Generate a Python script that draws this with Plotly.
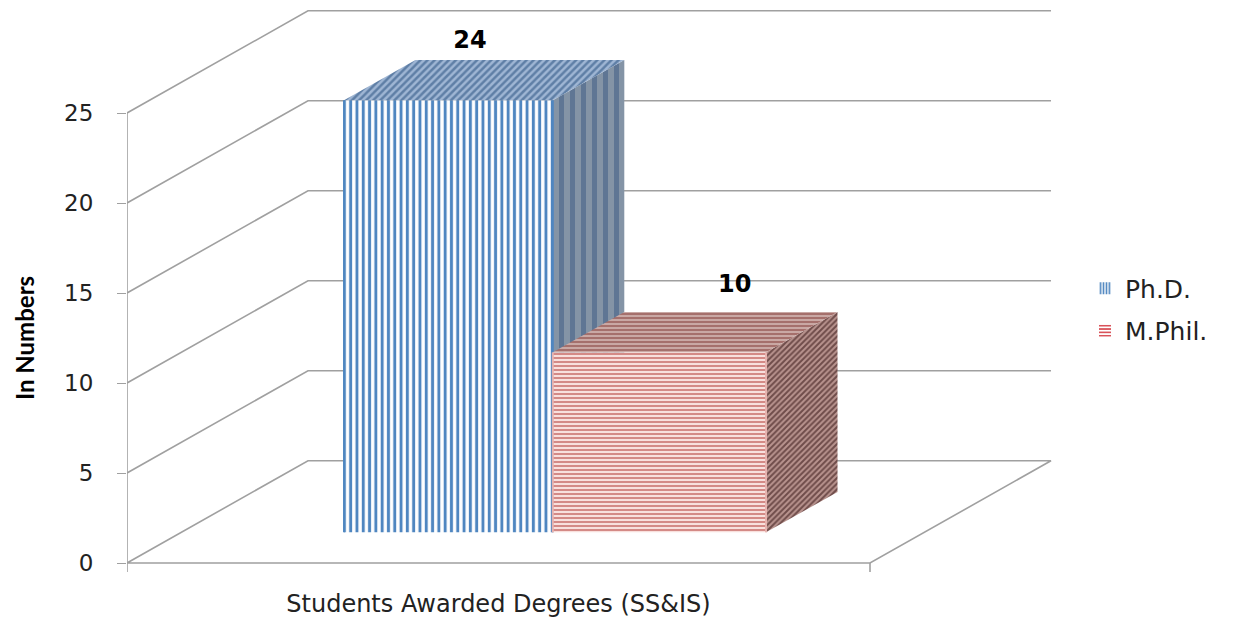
import plotly.graph_objects as go

# ---- data ----
series_names = ["Ph.D.", "M.Phil."]
series_values = [24, 10]
category = "Students Awarded Degrees (SS&IS)"
y_ticks = [0, 5, 10, 15, 20, 25]
y_axis_title = "In Numbers"

# ---- oblique projection (style constants, in axis units) ----
FULL_DX = 0.2436      # x shift of the full chart depth
FULL_DY = 5.68        # y shift of the full chart depth
D_FRONT, D_BACK = 0.30, 0.695
SLOT_L = [0.219, 0.5]
SLOT_R = [0.5, 0.787]
LABEL_POS = [(0.4616, 28.97), (0.818, 15.4)]
XR = [0, 1110 / 743]
YR = [-0.5, 31.28]
GRID = "#a0a0a0"


def proj(x, v, d):
    return x + d * FULL_DX, v + d * FULL_DY


fig = go.Figure()

# walls and floor
xs, ys = [], []
for t in y_ticks[1:]:
    a = proj(0, t, 0); b = proj(0, t, 1); c = proj(1, t, 1)
    xs += [a[0], b[0], c[0], None]; ys += [a[1], b[1], c[1], None]
a = proj(0, 0, 0); b = proj(0, 0, 1); c = proj(1, 0, 1); e = proj(1, 0, 0)
xs += [a[0], b[0], c[0], e[0], a[0], None]; ys += [a[1], b[1], c[1], e[1], a[1], None]
xs += [0, 0, None, 1, 1]; ys += [max(y_ticks), YR[0], None, 0, YR[0]]
fig.add_trace(go.Scatter(x=xs, y=ys, mode="lines", line=dict(color=GRID, width=1.6), cliponaxis=False,
                         showlegend=False, hoverinfo="skip"))

styles = [
    dict(front=dict(shape="|", fg="#4f86c0", bg="#ffffff", size=6.3, sol=0.47),
         top=dict(shape="/", fg="#5f7fa6", bg="#9fb6d4", size=5, sol=0.5),
         side=dict(shape="|", fg="#5f7694", bg="#8494a6", size=11, sol=0.45),
         edge="#4f86c0",
         legend=dict(shape="|", fg="#4f86c0", bg="#ffffff", size=3.6, sol=0.55)),
    dict(front=dict(shape="-", fg="#d0807c", bg="#f8e0dd", size=4, sol=0.45),
         top=dict(shape="-", fg="#a5706c", bg="#c9a8a4", size=4, sol=0.5),
         side=dict(shape="/", fg="#6f4c4a", bg="#b9948f", size=4, sol=0.5),
         edge="#e6b3af",
         legend=dict(shape="-", fg="#d9535a", bg="#ffffff", size=4.2, sol=0.5)),
]


def pat(s):
    return dict(shape=s["shape"], fgcolor=s["fg"], bgcolor=s["bg"], size=s["size"],
                solidity=s["sol"], fillmode="replace")


for i, (name, val) in enumerate(zip(series_names, series_values)):
    ax = dict(xaxis=f"x{i + 2}", yaxis=f"y{i + 2}")
    st = styles[i]
    base = D_FRONT * FULL_DY
    xl = SLOT_L[i] + D_FRONT * FULL_DX
    xr = SLOT_R[i] + D_FRONT * FULL_DX
    fig.add_trace(go.Bar(x=[(xl + xr) / 2], y=[val], base=[base], width=[xr - xl], showlegend=False,
                         marker=dict(color=st["front"]["fg"], pattern=pat(st["front"]),
                                     line=dict(width=0)), hoverinfo="skip", **ax))
    # legend key with a finer hatch, as in the reference swatches
    fig.add_trace(go.Bar(x=[None], y=[None], name=name, legendgroup=name,
                         marker=dict(color=st["legend"]["fg"], pattern=pat(st["legend"]),
                                     line=dict(width=0)), hoverinfo="skip", **ax))
    fl_t = proj(SLOT_L[i], val, D_FRONT); fr_t = proj(SLOT_R[i], val, D_FRONT)
    bl_t = proj(SLOT_L[i], val, D_BACK); br_t = proj(SLOT_R[i], val, D_BACK)
    fl_b = proj(SLOT_L[i], 0, D_FRONT)
    fr_b = proj(SLOT_R[i], 0, D_FRONT); br_b = proj(SLOT_R[i], 0, D_BACK)
    fig.add_trace(go.Scatter(x=[fr_t[0], br_t[0], br_b[0], fr_b[0], fr_t[0]],
                             y=[fr_t[1], br_t[1], br_b[1], fr_b[1], fr_t[1]],
                             mode="none", fill="toself", fillpattern=pat(st["side"]),
                             fillcolor=st["side"]["bg"], showlegend=False, hoverinfo="skip", **ax))
    fig.add_trace(go.Scatter(x=[fl_t[0], bl_t[0], br_t[0], fr_t[0], fl_t[0]],
                             y=[fl_t[1], bl_t[1], br_t[1], fr_t[1], fl_t[1]],
                             mode="none", fill="toself", fillpattern=pat(st["top"]),
                             fillcolor=st["top"]["bg"], showlegend=False, hoverinfo="skip", **ax))
    # vertical front edges
    fig.add_trace(go.Scatter(x=[fl_t[0], fl_b[0], None, fr_t[0], fr_b[0]],
                             y=[fl_t[1], fl_b[1], None, fr_t[1], fr_b[1]],
                             mode="lines", line=dict(color=st["edge"], width=2),
                             showlegend=False, hoverinfo="skip", **ax))
    fig.add_trace(go.Scatter(x=[LABEL_POS[i][0]], y=[LABEL_POS[i][1]], mode="text", text=[str(val)],
                             textfont=dict(family="DejaVu Sans", size=24, color="#000000", weight="bold"),
                             showlegend=False, hoverinfo="skip", **ax))

overlay = dict(visible=False, fixedrange=True)
fig.update_layout(
    width=1237, height=620, autosize=False,
    margin=dict(l=127, r=0, t=0, b=48),
    paper_bgcolor="white", plot_bgcolor="white",
    font=dict(family="DejaVu Sans", color="#1a1a1a"),
    xaxis=dict(range=XR, tickvals=[0.5], ticktext=[category], ticks="outside", ticklen=10, automargin=False,
               tickcolor="rgba(0,0,0,0)", showgrid=False, zeroline=False, showline=False,
               tickfont=dict(size=24, color="#222222"), fixedrange=True),
    yaxis=dict(range=YR, tickvals=y_ticks, ticks="outside", ticklen=9, tickwidth=1.4, tickcolor=GRID,
               showgrid=False, zeroline=False, showline=False, ticklabelstandoff=19, automargin=False,
               tickfont=dict(size=23, color="#222222"), fixedrange=True),
    xaxis2=dict(range=XR, overlaying="x", **overlay),
    yaxis2=dict(range=YR, overlaying="y", **overlay),
    xaxis3=dict(range=XR, overlaying="x", **overlay),
    yaxis3=dict(range=YR, overlaying="y", **overlay),
    legend=dict(x=(1085 - 127) / 1110, y=0.459, xanchor="left", yanchor="middle",
                font=dict(size=25, color="#222222"), tracegroupgap=7, itemwidth=30,
                bgcolor="rgba(0,0,0,0)"),
    annotations=[dict(text=y_axis_title, textangle=-90, xref="paper", yref="paper",
                      x=(25 - 127) / 1110, y=(572 - 338) / 572, xanchor="center", yanchor="middle",
                      showarrow=False,
                      font=dict(family="Lato", size=24, color="#000000", weight="bold"))],
)

fig.write_html("out.html", config=dict(displayModeBar=False),
               post_script="document.body.style.margin='0';document.body.style.overflow='hidden';")
